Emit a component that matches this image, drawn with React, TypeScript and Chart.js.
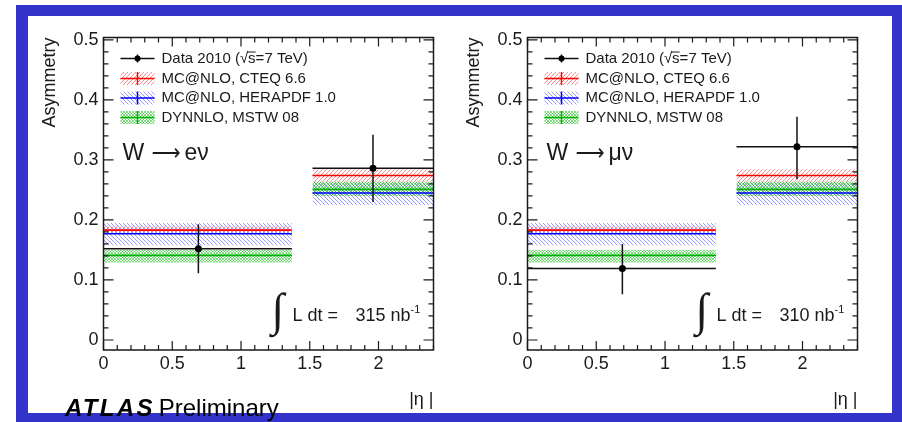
import React, { useEffect, useRef } from "react";
import { Chart, registerables } from "chart.js";
Chart.register(...registerables);

// ---- data ----
const binLow = [0, 1.52];
const binHigh = [1.37, 2.4];
const dataX = [0.69, 1.96];

// W -> e nu
const eData = [0.152, 0.286];
const eErrLo = [0.111, 0.23];
const eErrHi = [0.193, 0.342];
// W -> mu nu
const muData = [0.119, 0.322];
const muErrLo = [0.076, 0.268];
const muErrHi = [0.16, 0.372];

// theory: MC@NLO CTEQ 6.6
const cteqCentral = [0.183, 0.274];
const cteqLo = [0.178, 0.264];
const cteqHi = [0.189, 0.284];
// MC@NLO HERAPDF 1.0
const heraCentral = [0.177, 0.245];
const heraLo = [0.158, 0.225];
const heraHi = [0.195, 0.262];
// DYNNLO MSTW 08
const mstwCentral = [0.141, 0.251];
const mstwLo = [0.129, 0.24];
const mstwHi = [0.15, 0.264];

const xTickValues = [0, 0.5, 1, 1.5, 2];
const xTickLabels = ["0", "0.5", "1", "1.5", "2"];
const yTickValues = [0, 0.1, 0.2, 0.3, 0.4, 0.5];
const yTickLabels = ["0", "0.1", "0.2", "0.3", "0.4", "0.5"];

const legendLabels = [
  "MC@NLO, CTEQ 6.6",
  "MC@NLO, HERAPDF 1.0",
  "DYNNLO, MSTW 08",
];

const FONT = '"Liberation Sans", Arial, sans-serif';
const TEXT = "#1a1a1a";

function makeHatch(color: string, dir: number, size: number, cross = false) {
  const c = document.createElement("canvas");
  c.width = size;
  c.height = size;
  const g = c.getContext("2d")!;
  g.strokeStyle = color;
  g.lineWidth = 1;
  const drawDir = (d: number) => {
    g.beginPath();
    if (d > 0) {
      g.moveTo(0, size); g.lineTo(size, 0);
      g.moveTo(-1, 1); g.lineTo(1, -1);
      g.moveTo(size - 1, size + 1); g.lineTo(size + 1, size - 1);
    } else {
      g.moveTo(0, 0); g.lineTo(size, size);
      g.moveTo(size - 1, -1); g.lineTo(size + 1, 1);
      g.moveTo(-1, size - 1); g.lineTo(1, size + 1);
    }
    g.stroke();
  };
  drawDir(dir);
  if (cross) drawDir(-dir);
  return g.createPattern(c, "repeat")!;
}

type PanelProps = {
  vals: number[];
  lo: number[];
  hi: number[];
  particle: string;
  lumi: string;
  left: number;
};

function Panel({ vals, lo, hi, particle, lumi, left }: PanelProps) {
  const ref = useRef<HTMLCanvasElement | null>(null);
  useEffect(() => {
    const canvas = ref.current!;
    const redPat = makeHatch("rgba(255,70,70,0.65)", 1, 4);
    const bluePat = makeHatch("rgba(70,70,255,0.55)", -1, 4);
    const greenPat = makeHatch("rgba(0,190,0,0.5)", 1, 3, true);

    const bands = [
      { lo: heraLo, hi: heraHi, c: heraCentral, pat: bluePat, line: "#0000ff" },
      { lo: mstwLo, hi: mstwHi, c: mstwCentral, pat: greenPat, line: "#00b000" },
      { lo: cteqLo, hi: cteqHi, c: cteqCentral, pat: redPat, line: "#ff0000" },
    ];
    const ds: any[] = [];
    const seg = (b: number, v: number) => [
      { x: binLow[b], y: v },
      { x: binHigh[b], y: v },
    ];
    bands.forEach((bd) => {
      for (let b = 0; b < 2; b++) {
        ds.push({ data: seg(b, bd.lo[b]), showLine: true, borderWidth: 0, borderColor: "transparent", pointRadius: 0, fill: false });
        ds.push({ data: seg(b, bd.hi[b]), showLine: true, borderWidth: 0, borderColor: "transparent", pointRadius: 0, fill: "-1", backgroundColor: bd.pat });
      }
    });
    bands.forEach((bd) => {
      for (let b = 0; b < 2; b++) {
        ds.push({ data: seg(b, bd.c[b]), showLine: true, borderWidth: 1.6, borderColor: bd.line, pointRadius: 0, fill: false });
      }
    });
    for (let b = 0; b < 2; b++) {
      ds.push({ data: seg(b, vals[b]), showLine: true, borderWidth: 1.5, borderColor: "#111", pointRadius: 0, fill: false });
      ds.push({ data: [{ x: dataX[b], y: lo[b] }, { x: dataX[b], y: hi[b] }], showLine: true, borderWidth: 1.5, borderColor: "#111", pointRadius: 0, fill: false });
      ds.push({ data: [{ x: dataX[b], y: vals[b] }], showLine: false, pointRadius: 3.5, pointBackgroundColor: "#000", pointBorderColor: "#000", pointBorderWidth: 0 });
    }
    const N = ds.length;
    ds.forEach((d, i) => (d.order = N - i));

    const framePlugin = {
      id: "frame",
      afterDraw(chart: any) {
        const { ctx, chartArea: ca, scales } = chart;
        const x = scales.x, y = scales.y;
        ctx.save();
        ctx.strokeStyle = "#1a1a1a";
        ctx.lineWidth = 1.2;
        ctx.beginPath();
        for (let i = 0; i <= 25; i++) {
          const py = y.getPixelForValue(i * 0.02);
          const len = i % 5 === 0 ? 10 : 5;
          ctx.moveTo(ca.left, py); ctx.lineTo(ca.left + len, py);
          ctx.moveTo(ca.right, py); ctx.lineTo(ca.right - len, py);
        }
        for (let i = 0; i <= 24; i++) {
          const px = x.getPixelForValue(i * 0.1);
          const len = i % 5 === 0 ? 9 : 5;
          ctx.moveTo(px, ca.bottom); ctx.lineTo(px, ca.bottom - len);
          ctx.moveTo(px, ca.top); ctx.lineTo(px, ca.top + len);
        }
        ctx.stroke();
        ctx.lineWidth = 1.5;
        ctx.strokeRect(ca.left, ca.top, ca.right - ca.left, ca.bottom - ca.top);

        // legend
        const L = ca.left, T = ca.top;
        const rows = [T + 21, T + 41, T + 60.5, T + 80];
        const sx0 = L + 17, sx1 = L + 51, sxm = (sx0 + sx1) / 2;
        ctx.lineWidth = 1.5;
        ctx.strokeStyle = "#111";
        ctx.beginPath();
        ctx.moveTo(sx0, rows[0]); ctx.lineTo(sx1, rows[0]);
        ctx.moveTo(sxm, rows[0] - 4); ctx.lineTo(sxm, rows[0] + 4);
        ctx.stroke();
        ctx.fillStyle = "#000";
        ctx.beginPath(); ctx.arc(sxm, rows[0], 3, 0, Math.PI * 2); ctx.fill();
        const legBands = [bands[2], bands[0], bands[1]];
        legBands.forEach((bd, k) => {
          const cy = rows[k + 1];
          ctx.fillStyle = bd.pat;
          ctx.fillRect(sx0, cy - 6.5, sx1 - sx0, 13);
          ctx.strokeStyle = bd.line;
          ctx.beginPath();
          ctx.moveTo(sx0, cy); ctx.lineTo(sx1, cy);
          ctx.moveTo(sxm, cy - 6.5); ctx.lineTo(sxm, cy + 6.5);
          ctx.stroke();
        });
        ctx.fillStyle = TEXT;
        ctx.font = `15px ${FONT}`;
        ctx.textBaseline = "middle";
        ctx.textAlign = "left";
        const tx = L + 58;
        const p1 = "Data 2010 (\u221A";
        ctx.fillText(p1, tx, rows[0]);
        const w1 = ctx.measureText(p1).width;
        ctx.fillText("s", tx + w1, rows[0]);
        const ws = ctx.measureText("s").width;
        ctx.fillText("=7 TeV)", tx + w1 + ws, rows[0]);
        ctx.strokeStyle = TEXT;
        ctx.lineWidth = 1;
        ctx.beginPath();
        ctx.moveTo(tx + w1 - 1, rows[0] - 6.5);
        ctx.lineTo(tx + w1 + ws, rows[0] - 6.5);
        ctx.stroke();
        legendLabels.forEach((t, k) => ctx.fillText(t, tx, rows[k + 1]));

        // channel label: W -> l nu
        ctx.textBaseline = "alphabetic";
        ctx.font = `23px ${FONT}`;
        const by = T + 122;
        ctx.fillText("W", L + 19, by);
        ctx.font = `23px "DejaVu Sans", sans-serif`;
        const arrow = "\u27F6";
        const aw = ctx.measureText(arrow).width;
        ctx.save();
        ctx.translate(L + 48, by);
        ctx.scale(29 / aw, 1);
        ctx.fillText(arrow, 0, 0);
        ctx.restore();
        ctx.font = `23px ${FONT}`;
        ctx.fillText(particle, L + 81, by);

        // luminosity
        ctx.font = `46px "Liberation Serif", serif`;
        ctx.textBaseline = "middle";
        ctx.fillText("\u222B", L + 168, T + 275);
        ctx.textBaseline = "alphabetic";
        ctx.font = `18px ${FONT}`;
        ctx.fillText("L dt =", L + 189, T + 283.5);
        const lt = `${lumi} nb`;
        ctx.fillText(lt, L + 252, T + 283.5);
        const wl = ctx.measureText(lt).width;
        ctx.font = `11px ${FONT}`;
        ctx.fillText("-1", L + 252 + wl, T + 275.5);
        ctx.restore();
      },
    };

    const tickFont = { family: FONT, size: 18 };
    const chart = new Chart(canvas, {
      type: "scatter",
      data: { datasets: ds },
      options: {
        animation: false,
        responsive: false,
        maintainAspectRatio: false,
        layout: { padding: { left: 0, right: 18.5, top: 21.5, bottom: 3 } },
        plugins: { legend: { display: false }, tooltip: { enabled: false } },
        scales: {
          x: {
            type: "linear",
            min: 0,
            max: 2.4,
            afterFit: (s: any) => { s.height = 60; },
            afterBuildTicks: (s: any) => { s.ticks = xTickValues.map((v) => ({ value: v })); },
            ticks: { callback: (_v: any, i: number) => xTickLabels[i], font: tickFont, color: TEXT, padding: 3, maxRotation: 0, autoSkip: false },
            grid: { display: false, drawTicks: false },
            border: { display: false },
            title: { display: true, text: "|\u03B7 |", align: "end", font: { family: FONT, size: 18 }, color: TEXT, padding: { top: 0, bottom: -1 } },
          },
          y: {
            type: "linear",
            min: -0.0167,
            max: 0.504,
            afterFit: (s: any) => { s.width = 75.5; },
            afterBuildTicks: (s: any) => { s.ticks = yTickValues.map((v) => ({ value: v })); },
            ticks: { callback: (_v: any, i: number) => yTickLabels[i], font: tickFont, color: TEXT, padding: 5, autoSkip: false },
            grid: { display: false, drawTicks: false },
            border: { display: false },
            title: { display: true, text: "Asymmetry", align: "end", font: { family: FONT, size: 18 }, color: TEXT, padding: { top: 11.5, bottom: 0 } },
          },
        },
      } as any,
      plugins: [framePlugin],
    });
    return () => chart.destroy();
  }, []);
  return (
    <canvas
      ref={ref}
      width={424}
      height={397}
      style={{ position: "absolute", left, top: 16, width: 424, height: 397 }}
    />
  );
}

export default function App() {
  return (
    <div style={{ position: "fixed", left: 0, top: 0, width: 902, height: 422, background: "#fff", overflow: "hidden" }}>
      <div style={{ position: "absolute", left: 16, top: 5, width: 886, height: 417, background: "#3333cc" }} />
      <div style={{ position: "absolute", left: 28, top: 16, width: 864, height: 397, background: "#fff" }} />
      <Panel vals={eData} lo={eErrLo} hi={eErrHi} particle={"e\u03BD"} lumi="315" left={28} />
      <Panel vals={muData} lo={muErrLo} hi={muErrHi} particle={"\u03BC\u03BD"} lumi="310" left={452} />
      <div style={{ position: "absolute", left: 65, top: 396, fontFamily: FONT, fontSize: 24, lineHeight: "24px", color: "#000", whiteSpace: "nowrap" }}>
        <span style={{ fontWeight: 900, fontStyle: "italic", letterSpacing: 2.3 }}>ATLAS</span>
        <span style={{ marginLeft: 4 }}>Preliminary</span>
      </div>
    </div>
  );
}
